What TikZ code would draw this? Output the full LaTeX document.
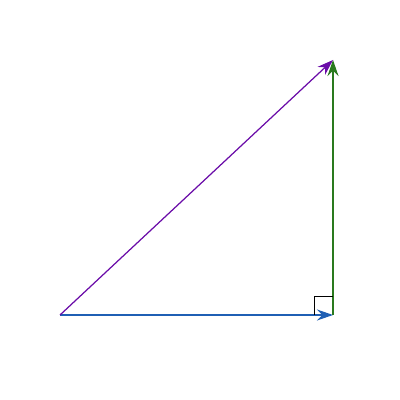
\documentclass[tikz,border=0pt]{standalone}
\usepackage{tikz}
\usepackage{xcolor}
\usetikzlibrary{calc, arrows.meta}
\definecolor{customcolor1}{HTML}{1f5fb4}
\definecolor{customcolor2}{HTML}{2a7a1e}
\definecolor{customcolor3}{HTML}{6a0ca8}

\begin{document}
\begin{tikzpicture}
        \useasboundingbox (0, 0) rectangle (8, 8);
        % Nodes
        \coordinate (a) at (1.2, 1.7);
        \coordinate (b) at (6.66, 1.7);
        \coordinate (c) at (6.66, 6.8);

        % Draw the vectors
        \draw [-{Stealth[length = 0.32cm, width = 0.22cm]}, line width = 0.7pt, color = customcolor1] (a) -- (b);
        \draw [-{Stealth[length = 0.32cm, width = 0.22cm]}, line width = 0.7pt, color = customcolor2] (b) -- (c);
        \draw [-{Stealth[length = 0.32cm, width = 0.22cm]}, line width = 0.7pt, color = customcolor3] (a) -- (c);

        % Right angle
        \draw [line width = 0.5pt] ($(b) + (-0.38, 0)$) -- ++(0, 0.38) -- ++(0.38, 0);

    \end{tikzpicture}
\end{document}
